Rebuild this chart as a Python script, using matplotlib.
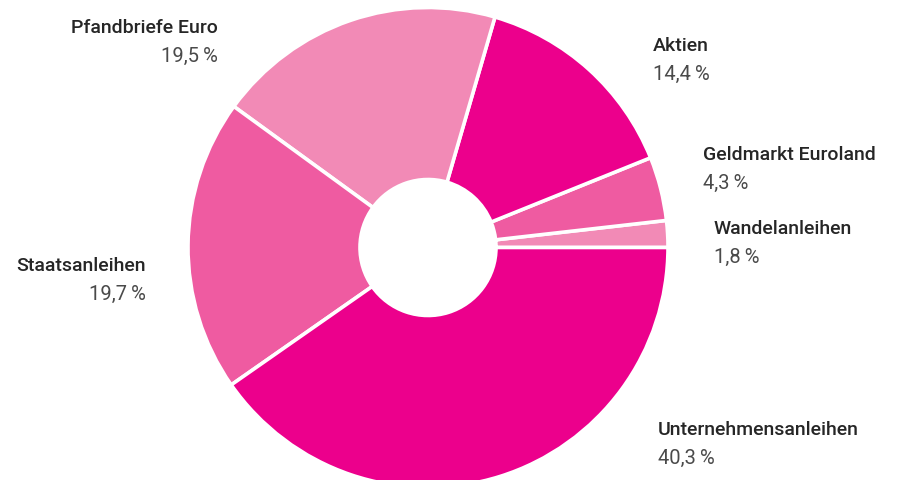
import matplotlib
matplotlib.use("Agg")
import matplotlib.pyplot as plt

categories = ["Wandelanleihen", "Geldmarkt Euroland", "Aktien", "Pfandbriefe Euro",
              "Staatsanleihen", "Unternehmensanleihen"]
values = [1.8, 4.3, 14.4, 19.5, 19.7, 40.3]
value_labels = ["1,8\u2009%", "4,3\u2009%", "14,4\u2009%", "19,5\u2009%", "19,7\u2009%", "40,3\u2009%"]
colors = ["#F28AB6", "#EF5BA1", "#EC008C", "#F28AB6", "#EF5BA1", "#EC008C"]

W, H = 897, 481
fig = plt.figure(figsize=(W / 100, H / 100), dpi=100)
ax = fig.add_axes([0, 0, 1, 1])

cx, cy, R = 428, H - 248.5, 240
ax.pie(values, colors=colors, startangle=0, counterclock=True, center=(cx, cy), radius=R,
       wedgeprops=dict(width=R - 68, edgecolor="white", linewidth=2.6), frame=True)
ax.set_xlim(0, W)
ax.set_ylim(0, H)
ax.set_aspect("equal")
ax.axis("off")

pos = {
    "Pfandbriefe Euro": (218, 28, "right"),
    "Aktien": (653, 46, "left"),
    "Geldmarkt Euroland": (703, 155, "left"),
    "Wandelanleihen": (714, 229, "left"),
    "Staatsanleihen": (146, 266, "right"),
    "Unternehmensanleihen": (658, 430, "left"),
}
fam = ["Roboto", "DejaVu Sans"]
for cat, vl in zip(categories, value_labels):
    x, y, ha = pos[cat]
    ax.text(x, H - y, cat, ha=ha, va="center", fontsize=14, fontweight="medium",
            color="#262626", family=fam)
    ax.text(x, H - y - 28, vl, ha=ha, va="center", fontsize=14.5, fontweight="normal",
            color="#4a4a4a", family=fam)

fig.savefig("out.png", dpi=100, facecolor="white")
